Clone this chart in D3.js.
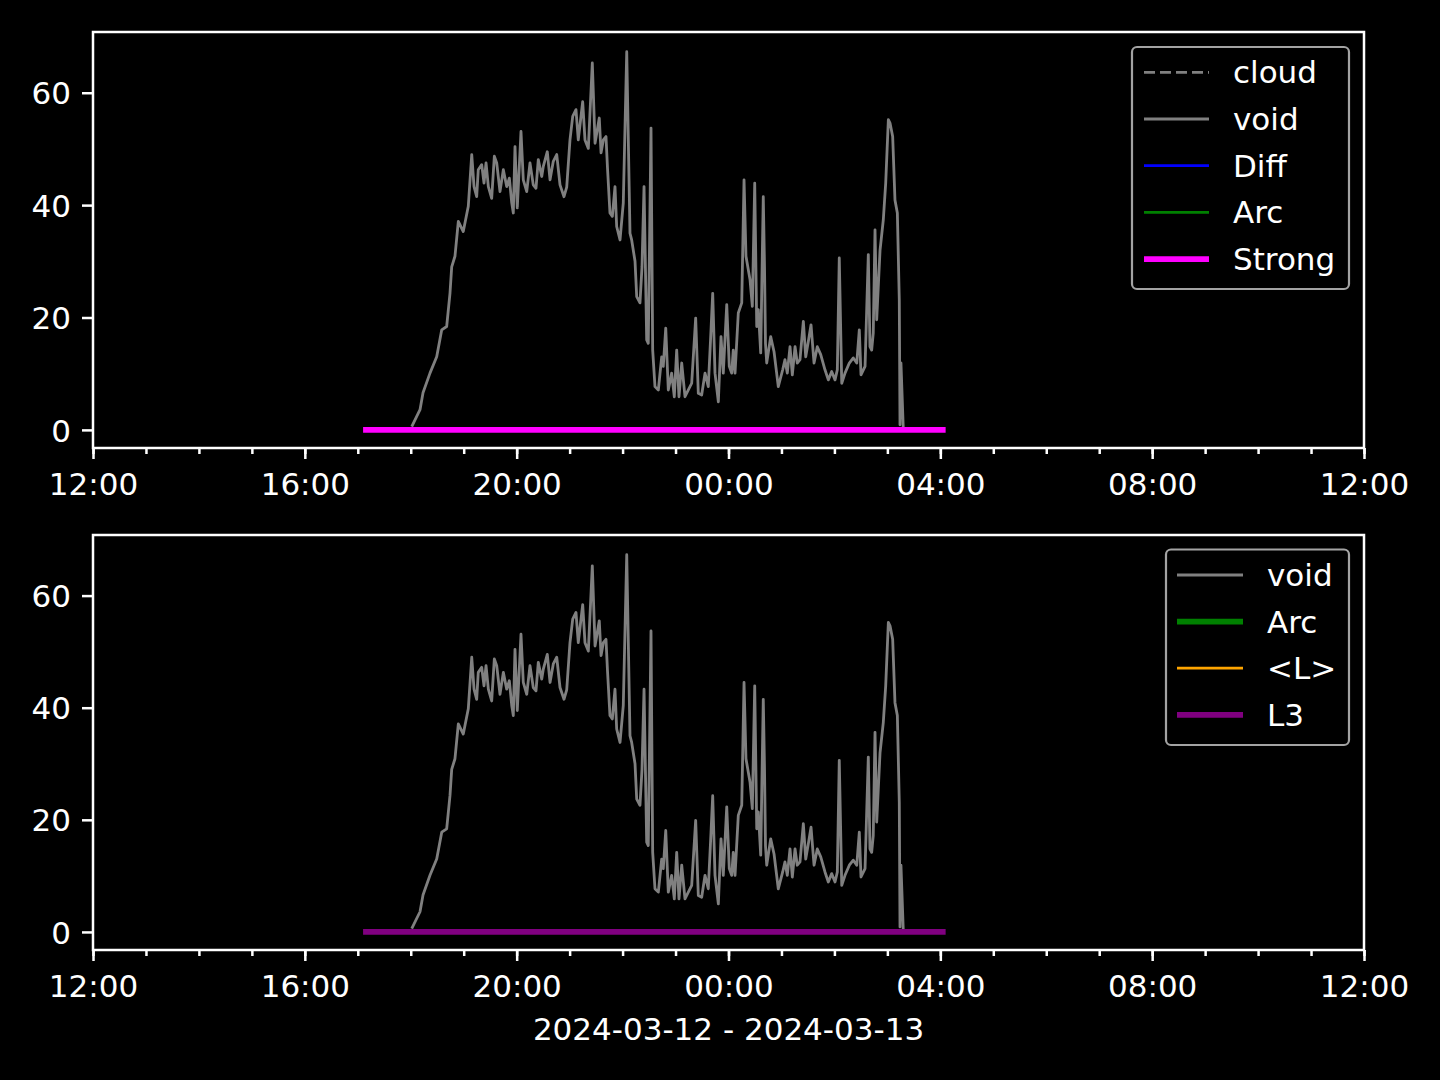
<!DOCTYPE html>
<html><head><meta charset="utf-8">
<script src="https://cdn.jsdelivr.net/npm/d3@7"></script>
<style>html,body{margin:0;background:#000;} svg{display:block;}</style>
</head><body><svg id="c" width="1440" height="1080"></svg>
<script>
// ---------------- data ----------------
const startTime = "2024-03-12T12:00:00";
const endTime = "2024-03-13T12:00:00";
const xLabel = "2024-03-12 - 2024-03-13";
const yTicks = [0, 20, 40, 60];
// minutes after 2024-03-12 12:00
const voidMinutes = [361.1,370.5,373.9,381.8,389.4,395.1,400.7,404.5,406.4,410.1,413.9,419.5,425.2,429.1,431.7,434.7,436.5,440.4,443.0,445.3,447.9,451.7,454.7,457.4,461.1,464.9,468.7,471.7,474.4,476.2,478.1,480.7,484.9,487.5,491.4,495.1,498.8,501.9,504.5,508.4,510.2,514.7,517.8,521.5,525.4,529.1,533.6,536.7,540.4,543.5,547.2,549.8,554.8,557.4,561.2,565.7,568.8,573.6,575.6,578.2,581.2,582.9,585.7,588.4,591.4,593.3,597.1,600.8,604.7,608.4,610.3,614.1,616.0,619.7,622.0,624.3,627.3,629.1,632.2,634.1,636.7,640.5,644.3,646.1,648.9,651.8,655.6,658.6,661.3,663.9,667.0,670.7,674.5,678.3,682.8,685.8,689.6,693.4,697.1,700.2,702.1,704.7,708.5,711.5,714.1,718.0,720.9,723.6,725.4,727.4,731.1,735.0,737.6,739.8,744.4,747.0,749.7,752.0,753.8,756.5,759.4,760.8,761.9,763.3,767.8,771.6,776.4,781.4,784.0,786.6,789.7,792.3,795.4,797.9,801.0,804.8,807.5,810.4,813.5,816.9,820.6,824.5,829.3,833.1,836.9,840.7,843.3,845.5,848.3,852.0,856.9,861.4,865.3,868.2,870.1,874.7,878.4,880.3,882.2,884.0,886.0,887.9,891.7,895.4,898.1,901.1,903.0,906.0,908.6,911.3,913.5,914.3,915.4,918.0];
const voidValues = [0.6,3.6,6.6,10.1,13,17.8,18.4,24.4,29,30.9,37.1,35.3,39.8,49,43.3,41.5,46.3,47.2,43.9,47.5,43.3,41.2,48.7,47.5,42.4,46.3,43.3,44.8,40.4,38.6,50.4,39.5,53.1,44.5,42.4,47.5,43.6,43,48.1,45.1,46.9,49.5,44.5,47.8,49,43.6,41.5,43.2,51.6,55.8,57,51.6,58.4,51.6,50.1,65.3,51,55.5,49.3,51.6,52.2,46.6,38.6,38,43.3,36.2,33.8,40.4,67.3,35,33.8,30,23.7,22.6,29,43.3,16,15.4,53.7,14.2,7.7,7.1,13,11.3,18.1,7.1,10.1,5.9,14.2,5.9,11.9,5.9,7.1,8.3,19.9,6.5,6.2,10.1,7.7,17.8,24.3,10.1,5,16.6,10.1,22.3,11.3,10.1,14.2,10.1,20.8,22.6,44.5,30.9,26.7,22,43.9,18.4,21.4,13.7,41.5,29,15.4,11.9,16.6,13.9,7.7,10.7,12.5,10.1,14.8,9.8,14.8,11.9,12.5,19.3,13,15.7,18.7,11.9,14.8,13.4,10.7,8.9,10.4,8.9,10.7,30.6,8.3,10.1,11.9,12.8,11.9,17.8,9.8,11.3,31.2,14.8,14.2,17.2,35.6,19.6,32,37.4,43.9,55.2,54.6,52.2,40.9,38.6,23.1,0.9,11.9,0.3];
const strongMinutes = [306, 966];
const strongValues = [0, 0];
const l3Minutes = [306, 966];
const l3Values = [0, 0];
const topLegendNames = ["cloud", "void", "Diff", "Arc", "Strong"];
const bottomLegendNames = ["void", "Arc", "<L>", "L3"];

// ---------------- styles ----------------
const styles = {
  "cloud": {color: "#808080", width: 2.8, dash: "11,5"},
  "void": {color: "#808080", width: 2.8},
  "Diff": {color: "#0000ff", width: 2.8},
  "Arc": {color: "#008000", width: 2.8},
  "Arc2": {color: "#008000", width: 5.8},
  "<L>": {color: "#ffa500", width: 2.8},
  "L3": {color: "#800080", width: 5.8},
  "Strong": {color: "#ff00ff", width: 5.8}
};
const FONT = "DejaVu Sans, sans-serif";
const FS = 31;

const svg = d3.select("#c");
svg.append("rect").attr("width", 1440).attr("height", 1080).attr("fill", "#000");

const t0 = new Date(startTime);
const toDate = m => new Date(t0.getTime() + m * 60000);
const x = d3.scaleTime().domain([t0, new Date(endTime)]).range([93, 1364]);

const allVals = voidValues.concat(strongValues, l3Values);
const ymin = d3.min(allVals), ymax = d3.max(allVals);
const pad = (ymax - ymin) * 0.05;

function panel(top, bottom, series, legend) {
  const y = d3.scaleLinear().domain([ymin - pad, ymax + pad]).range([bottom + 0.8, top + 0.8]);
  const g = svg.append("g");
  const line = d3.line().x(d => x(d[0])).y(d => y(d[1]));
  g.append("clipPath").attr("id", "clip" + top).append("rect")
    .attr("x", 93).attr("y", top).attr("width", 1271).attr("height", bottom - top);
  const pg = g.append("g").attr("clip-path", `url(#clip${top})`);
  series.forEach(s => {
    const pts = s.mins.map((m, i) => [toDate(m), s.vals[i]]);
    const st = styles[s.style];
    pg.append("path").datum(pts).attr("d", line).attr("fill", "none")
      .attr("stroke", st.color).attr("stroke-width", st.width)
      .attr("stroke-linejoin", "round").attr("stroke-linecap", "butt")
      .attr("stroke-dasharray", st.dash || null);
  });
  g.append("rect").attr("x", 93).attr("y", top).attr("width", 1271).attr("height", bottom - top)
    .attr("fill", "none").attr("stroke", "#fff").attr("stroke-width", 2.5);
  const xa = d3.axisBottom(x).ticks(d3.timeHour.every(4)).tickFormat(d3.timeFormat("%H:%M"))
    .tickSize(11).tickPadding(14);
  const xg = g.append("g").attr("transform", `translate(0,${bottom})`).call(xa);
  const xm = d3.axisBottom(x).ticks(d3.timeHour.every(1)).tickFormat("").tickSize(6);
  const xmg = g.append("g").attr("transform", `translate(0,${bottom})`).call(xm);
  const ya = d3.axisLeft(y).tickValues(yTicks).tickFormat(d3.format("d")).tickSize(11).tickPadding(11);
  const yg = g.append("g").attr("transform", `translate(93,0)`).call(ya);
  [xg, xmg, yg].forEach(a => {
    a.select(".domain").remove();
    a.selectAll("line").attr("stroke", "#fff").attr("stroke-width", 2.5);
    a.selectAll("text").attr("fill", "#fff").attr("font-family", FONT).attr("font-size", FS);
  });
  yg.selectAll("text").attr("dy", "0.36em");
  const L = legend;
  g.append("rect").attr("x", L.x0).attr("y", L.y0).attr("width", L.x1 - L.x0).attr("height", L.y1 - L.y0)
    .attr("rx", 5).attr("fill", "#000").attr("stroke", "#a3a3a3").attr("stroke-width", 2.2);
  L.items.forEach((it, i) => {
    const st = styles[it.style];
    const yy = L.first + i * L.step;
    g.append("line").attr("x1", L.lx0).attr("x2", L.lx1).attr("y1", yy).attr("y2", yy)
      .attr("stroke", st.color).attr("stroke-width", st.width).attr("stroke-dasharray", st.dash || null);
    g.append("text").attr("x", L.tx).attr("y", yy + 11).text(it.name)
      .attr("fill", "#fff").attr("font-family", FONT).attr("font-size", FS);
  });
}

panel(32, 448, [
  {mins: voidMinutes, vals: voidValues, style: "void"},
  {mins: strongMinutes, vals: strongValues, style: "Strong"}
], {x0: 1132, x1: 1349, y0: 47, y1: 289, first: 72.3, step: 46.7, lx0: 1144, lx1: 1209, tx: 1233,
    items: topLegendNames.map(n => ({name: n, style: n}))});

panel(535, 950, [
  {mins: voidMinutes, vals: voidValues, style: "void"},
  {mins: l3Minutes, vals: l3Values, style: "L3"}
], {x0: 1166, x1: 1349, y0: 549.5, y1: 745, first: 575, step: 46.6, lx0: 1177, lx1: 1243, tx: 1267,
    items: bottomLegendNames.map(n => ({name: n, style: n === "Arc" ? "Arc2" : n}))});

svg.append("text").attr("x", 728.5).attr("y", 1040).attr("text-anchor", "middle")
  .attr("fill", "#fff").attr("font-family", FONT).attr("font-size", FS).text(xLabel);
</script></body></html>
